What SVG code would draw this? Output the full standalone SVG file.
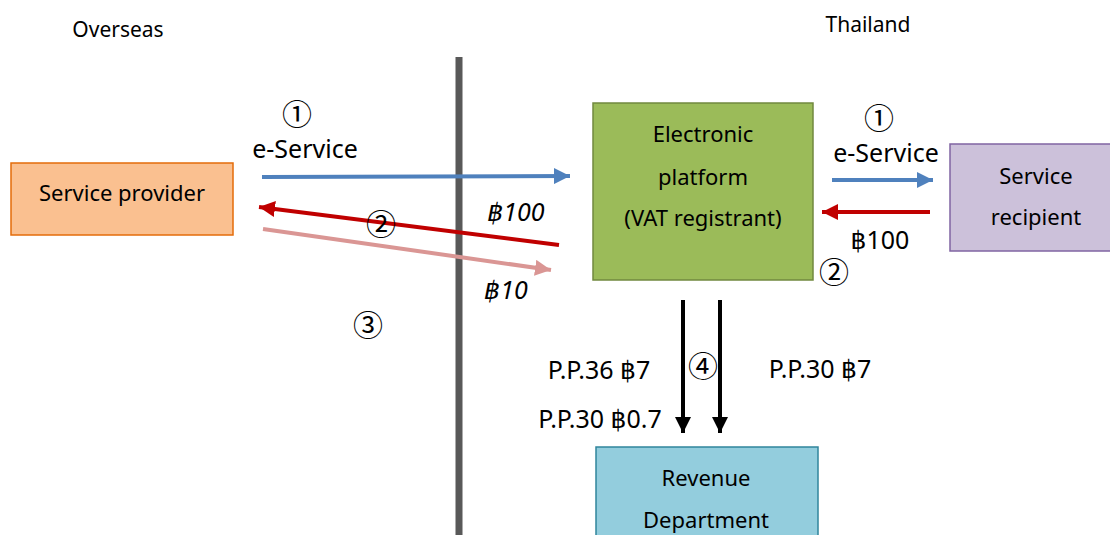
<svg xmlns="http://www.w3.org/2000/svg" width="1110" height="535" viewBox="0 0 1110 535">
  <style>
    .t { font-family: "Noto Sans", "DejaVu Sans", sans-serif; fill: #000; text-anchor: middle; }
    .lbl { font-size: 22px; }
    .big { font-size: 25px; }
    .num { font-family: "Noto Sans CJK JP", "DejaVu Sans", sans-serif; font-size: 30px; text-anchor: middle; fill: #000; }
    .it { font-style: italic; }
  </style>
  <defs>
    <marker id="hBlue" viewBox="0 0 10 10" refX="10" refY="5" markerWidth="4" markerHeight="4" orient="auto" markerUnits="strokeWidth">
      <path d="M0,0 L10,5 L0,10 z" fill="#4F81BD"/>
    </marker>
    <marker id="hRed" viewBox="0 0 10 10" refX="10" refY="5" markerWidth="4" markerHeight="4" orient="auto" markerUnits="strokeWidth">
      <path d="M0,0 L10,5 L0,10 z" fill="#C00000"/>
    </marker>
    <marker id="hPink" viewBox="0 0 10 10" refX="10" refY="5" markerWidth="4" markerHeight="4" orient="auto" markerUnits="strokeWidth">
      <path d="M0,0 L10,5 L0,10 z" fill="#DA9694"/>
    </marker>
    <marker id="hBlack" viewBox="0 0 10 10" refX="10" refY="5" markerWidth="4" markerHeight="4" orient="auto" markerUnits="strokeWidth">
      <path d="M0,0 L10,5 L0,10 z" fill="#000"/>
    </marker>
  </defs>

  <rect width="1110" height="535" fill="#fff"/>

  <!-- region titles -->
  <text class="t" x="118" y="37" font-size="21">Overseas</text>
  <text class="t" x="868" y="32" font-size="21">Thailand</text>

  <!-- border line -->
  <line x1="459" y1="57" x2="459" y2="535" stroke="#595959" stroke-width="7"/>

  <!-- nodes -->
  <g id="service-provider">
    <rect x="11" y="163" width="222" height="72" fill="#FAC090" stroke="#E46C0A" stroke-width="1.5"/>
    <text class="t lbl" x="122" y="201">Service provider</text>
  </g>
  <g id="electronic-platform">
    <rect x="593" y="103" width="220" height="177" fill="#9BBB59" stroke="#71893F" stroke-width="1.5"/>
    <text class="t lbl" x="703" y="142">Electronic</text>
    <text class="t lbl" x="703" y="185">platform</text>
    <text class="t lbl" x="703" y="226">(VAT registrant)</text>
  </g>
  <g id="service-recipient">
    <rect x="950" y="144" width="165" height="107" fill="#CCC1DA" stroke="#8064A2" stroke-width="1.5"/>
    <text class="t lbl" x="1036" y="184">Service</text>
    <text class="t lbl" x="1036" y="225">recipient</text>
  </g>
  <g id="revenue-department">
    <rect x="596" y="447" width="222" height="95" fill="#93CDDD" stroke="#31859C" stroke-width="1.5"/>
    <text class="t lbl" x="706" y="486">Revenue</text>
    <text class="t lbl" x="706" y="528">Department</text>
  </g>

  <!-- connectors -->
  <g id="connectors" fill="none">
    <line x1="262" y1="177" x2="570" y2="176" stroke="#4F81BD" stroke-width="4" marker-end="url(#hBlue)"/>
    <line x1="559" y1="245" x2="259" y2="207" stroke="#C00000" stroke-width="4" marker-end="url(#hRed)"/>
    <line x1="263" y1="229" x2="551" y2="270" stroke="#DA9694" stroke-width="4" marker-end="url(#hPink)"/>
    <line x1="832" y1="180" x2="933" y2="180" stroke="#4F81BD" stroke-width="4" marker-end="url(#hBlue)"/>
    <line x1="930" y1="212" x2="822" y2="212" stroke="#C00000" stroke-width="4" marker-end="url(#hRed)"/>
    <line x1="683" y1="300" x2="683" y2="433" stroke="#000" stroke-width="4" marker-end="url(#hBlack)"/>
    <line x1="720" y1="300" x2="720" y2="433" stroke="#000" stroke-width="4" marker-end="url(#hBlack)"/>
  </g>

  <!-- labels -->
  <text class="num" x="297" y="125">①</text>
  <text class="t big" x="305" y="158">e-Service</text>
  <text class="num" x="381" y="235">②</text>
  <text class="t big it" x="516" y="221">฿100</text>
  <text class="t big it" x="506" y="299">฿10</text>
  <text class="num" x="368" y="336">③</text>

  <text class="num" x="879" y="129">①</text>
  <text class="t big" x="886" y="162">e-Service</text>
  <text class="t big" x="880" y="249">฿100</text>
  <text class="num" x="834" y="283">②</text>

  <text class="t" font-size="25" x="599" y="379">P.P.36 ฿7</text>
  <text class="t" font-size="25" x="600" y="428">P.P.30 ฿0.7</text>
  <text class="num" x="703" y="377">④</text>
  <text class="t" font-size="25" x="820" y="378">P.P.30 ฿7</text>
</svg>
